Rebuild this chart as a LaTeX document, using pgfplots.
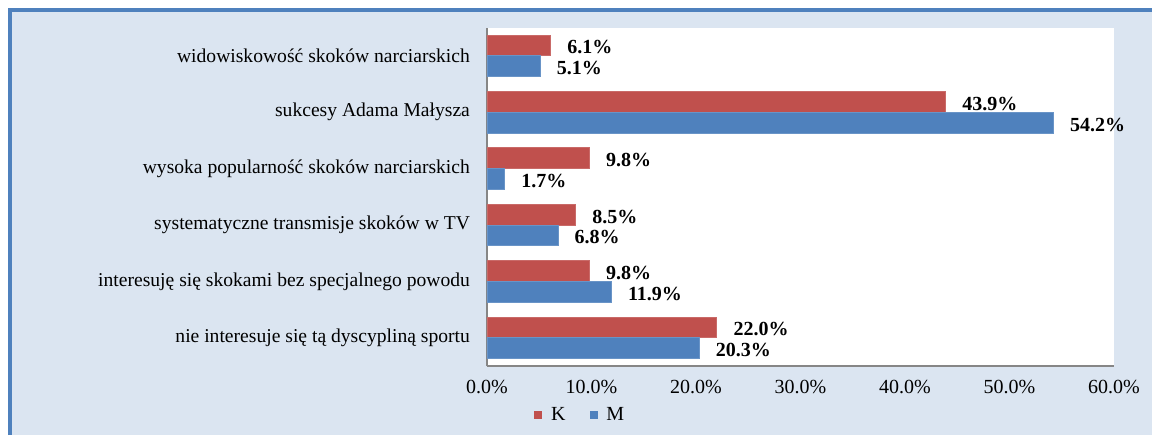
\documentclass[border=0pt]{standalone}
\usepackage{fontspec}
\setmainfont{Liberation Serif}
\usepackage{pgfplots}
\pgfplotsset{compat=1.18}
\definecolor{kred}{HTML}{C0504D}
\definecolor{mblue}{HTML}{4F81BD}
\definecolor{bgblue}{HTML}{DBE5F1}
\definecolor{axgray}{HTML}{868686}

\begin{document}
\begin{tikzpicture}
% page = 1152x435 px at 0.5pt per px
\path[use as bounding box] (0,0) rectangle (576pt,217.5pt);
\fill[bgblue] (4.75pt,0) rectangle (576pt,212.5pt);
\draw[mblue, line width=2pt] (4.75pt,0) -- (4.75pt,212.5pt) -- (576pt,212.5pt);

\begin{axis}[
  at={(243.5pt,34.5pt)}, anchor=south west,
  scale only axis, width=313.5pt, height=169.2pt,
  xbar, bar width=10.4pt,
  xmin=0, xmax=60, ymin=-0.5, ymax=5.5,
  axis background/.style={fill=white},
  axis x line*=bottom, axis y line*=left,
  axis line style={draw=axgray, line width=1pt, -},
  major tick length=0pt,
  xtick={0,10,...,60},
  xticklabels={0.0\%,10.0\%,20.0\%,30.0\%,40.0\%,50.0\%,60.0\%},
  ytick={0,...,5},
  yticklabels={nie interesuje się tą dyscypliną sportu,
    interesuję się skokami bez specjalnego powodu,
    systematyczne transmisje skoków w TV,
    wysoka popularność skoków narciarskich,
    sukcesy Adama Małysza,
    widowiskowość skoków narciarskich},
  tick label style={font=\fontsize{10}{12}\selectfont},
  yticklabel style={font=\fontsize{9.8}{12}\selectfont, xshift=-5pt},
  xticklabel style={yshift=-3.5pt},
  point meta=x,
  nodes near coords={\pgfmathprintnumber[assume math mode=true,fixed,fixed zerofill,precision=1]{\pgfplotspointmeta}\%},
  every node near coord/.append style={font=\fontsize{10}{12}\selectfont\bfseries,
    anchor=west, xshift=4.8pt, yshift=-1pt},
  legend columns=2,
  legend style={at={(0.075,-0.145)}, anchor=west, draw=none, fill=none,
    font=\fontsize{10}{12}\selectfont, inner sep=0pt,
    /tikz/every odd column/.append style={column sep=2.5pt},
    /tikz/every even column/.append style={column sep=10pt}},
]
\addplot[fill=kred, draw=kred!85!white, bar shift=5.2pt,
  legend image code/.code={\fill[kred] (0pt,-1.75pt) rectangle (3.5pt,1.75pt);}]
  coordinates {(22.0,0) (9.8,1) (8.5,2) (9.8,3) (43.9,4) (6.1,5)};
\addlegendentry{K}
\addplot[fill=mblue, draw=mblue!85!white, bar shift=-5.2pt,
  legend image code/.code={\fill[mblue] (0pt,-1.75pt) rectangle (3.5pt,1.75pt);}]
  coordinates {(20.3,0) (11.9,1) (6.8,2) (1.7,3) (54.2,4) (5.1,5)};
\addlegendentry{M}
\end{axis}
\end{tikzpicture}
\end{document}
